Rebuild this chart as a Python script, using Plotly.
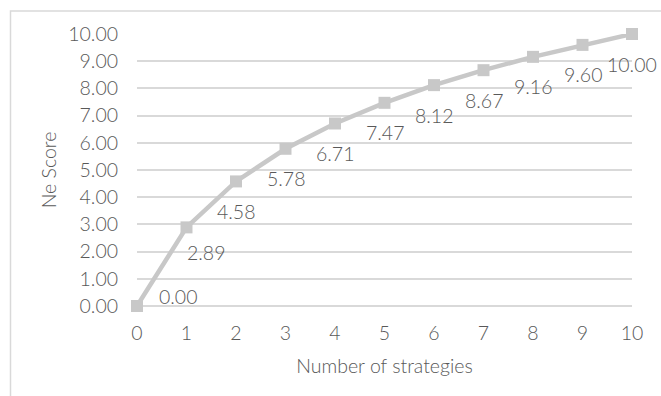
import plotly.graph_objects as go

# Ne score as a function of the number of strategies
strategies = [0, 1, 2, 3, 4, 5, 6, 7, 8, 9, 10]
ne_score = [0.00, 2.89, 4.58, 5.78, 6.71, 7.47, 8.12, 8.67, 9.16, 9.60, 10.00]
y_ticks = [0, 1, 2, 3, 4, 5, 6, 7, 8, 9, 10]

# per-label pixel offsets (label centre relative to the marker)
label_dx = [41, 19, 0, 0, 0, 0, 0, 0, 0, 0, 0]
label_dy = [10, -25, -30, -30, -30, -30, -30, -30, -30, -30, -30]

TEXT = "#595959"
GRID = "#d9d9d9"
LINE = "#c8c8c8"
FONT = "Lato"
FS = 19.5

W, H = 661, 396
L, R, T, B = 137, 29, 33.5, 90.3

fig = go.Figure()
fig.add_trace(go.Scatter(
    x=strategies, y=ne_score, mode="lines+markers",
    line=dict(color=LINE, width=4.5),
    marker=dict(symbol="square", size=12, color=LINE),
    cliponaxis=False, showlegend=False, hoverinfo="x+y",
))

for xv, yv, dx, dy in zip(strategies, ne_score, label_dx, label_dy):
    fig.add_annotation(
        x=xv, y=yv, text=f"{yv:.2f}", showarrow=False,
        xshift=dx, yshift=dy, xanchor="center", yanchor="middle",
        font=dict(family=FONT, size=FS, color=TEXT, weight=300),
    )

# outer chart frame (runs off the right and bottom edges)
pw, ph = W - L - R, H - T - B
fig.add_shape(
    type="rect", xref="paper", yref="paper",
    x0=(10.5 - L) / pw, x1=(W + 20 - L) / pw,
    y0=-(H + 20 - T - ph) / ph, y1=(H - 10.5 - B) / ph,
    line=dict(color=GRID, width=1.5), fillcolor="rgba(0,0,0,0)",
    layer="below",
)

tfont = dict(family=FONT, size=FS, color=TEXT, weight=300)

fig.update_layout(
    width=W, height=H,
    margin=dict(l=L, r=R, t=T, b=B),
    paper_bgcolor="white", plot_bgcolor="white",
    font=tfont,
    xaxis=dict(
        range=[0, 10], tickvals=strategies, ticktext=[str(s) for s in strategies],
        showgrid=False, zeroline=False, showline=False, ticks="",
        ticklabelstandoff=13,
        title=dict(text="Number of strategies", standoff=16, font=tfont),
        tickfont=tfont,
    ),
    yaxis=dict(
        range=[0, 10], tickvals=y_ticks, ticktext=[f"{v:.2f}" for v in y_ticks],
        showgrid=True, gridcolor=GRID, gridwidth=1.5,
        zeroline=True, zerolinecolor=GRID, zerolinewidth=1.5,
        showline=False, ticks="", ticklabelstandoff=18,
        title=dict(text="Ne Score", standoff=6, font=tfont),
        tickfont=tfont,
    ),
)

fig.write_html("out.html")
